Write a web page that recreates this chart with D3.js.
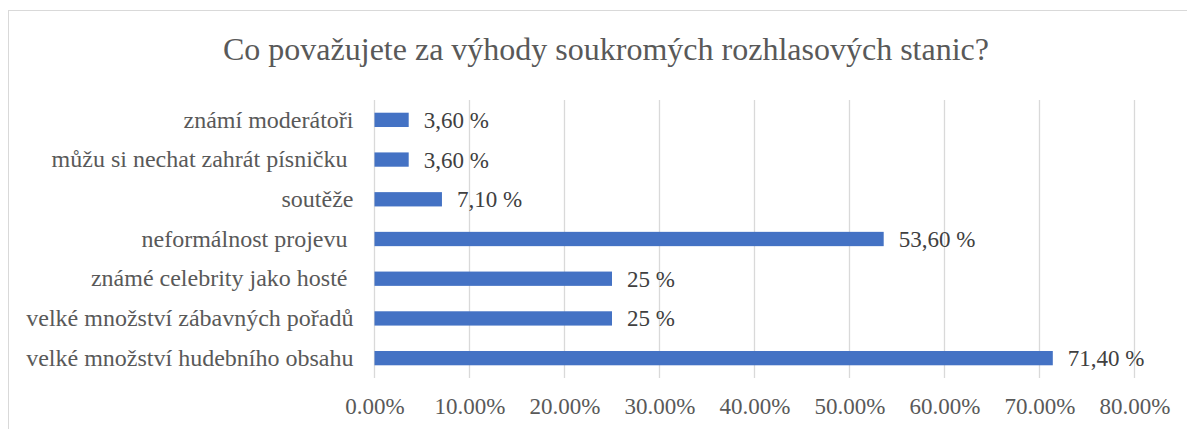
<!DOCTYPE html>
<html><head><meta charset="utf-8">
<script src="https://cdn.jsdelivr.net/npm/d3@7/dist/d3.min.js"></script>
<style>body{margin:0;background:#fff}svg{display:block}text{white-space:pre}</style>
</head><body>
<script>
const title = "Co považujete za výhody soukromých rozhlasových stanic?";
const categories = ["známí moderátoři","můžu si nechat zahrát písničku ","soutěže","neformálnost projevu ","známé celebrity jako hosté ","velké množství zábavných pořadů","velké množství hudebního obsahu"];
const values = [3.6, 3.6, 7.1, 53.6, 25, 25, 71.4];
const valueLabels = ["3,60 %","3,60 %","7,10 %","53,60 %","25 %","25 %","71,40 %"];
const ticks = [0,10,20,30,40,50,60,70,80];

const W=1187,H=429;
const svg=d3.select("body").append("svg").attr("width",W).attr("height",H);
const font="'Liberation Serif'";
svg.append("rect").attr("x",8.5).attr("y",10.5).attr("width",W).attr("height",H).attr("fill","#fff").attr("stroke","#d9d9d9");

const x=d3.scaleLinear().domain([0,80]).range([374.5,1134.5]);
const y=d3.scaleBand().domain(categories).range([100,378]).paddingInner(0.64).paddingOuter(0.32);

svg.append("text").attr("x",606).attr("y",60).attr("text-anchor","middle").style("font-family",font).attr("font-size",32).attr("fill","#595959").text(title);

const g=svg.append("g");
g.selectAll("line.grid").data(ticks).join("line").attr("class","grid")
 .attr("x1",d=>x(d)).attr("x2",d=>x(d)).attr("y1",100).attr("y2",378).attr("stroke","#d9d9d9").attr("stroke-width",1.3);

const ax=d3.axisBottom(x).tickValues(ticks).tickFormat(d=>d.toFixed(2)+"%").tickSize(0).tickPadding(0);
const axg=svg.append("g").attr("transform","translate(0,398)").call(ax);
axg.select(".domain").remove();
axg.attr("font-family",null).attr("font-size",null);
axg.selectAll("text").style("font-family",font).attr("font-size",23).attr("fill","#595959").attr("dy","0.71em");

const ay=d3.axisLeft(y).tickSize(0).tickPadding(21);
const ayg=svg.append("g").attr("transform",`translate(${x(0)},0)`).call(ay);
ayg.select(".domain").remove();
ayg.attr("font-family",null).attr("font-size",null);
ayg.selectAll("text").style("font-family",font).attr("font-size",24).attr("fill","#595959");

g.selectAll("rect.bar").data(values).join("rect").attr("class","bar")
 .attr("x",x(0)).attr("y",(d,i)=>y(categories[i])).attr("width",d=>x(d)-x(0)).attr("height",y.bandwidth())
 .attr("fill","#4472c4");

g.selectAll("text.lbl").data(values).join("text").attr("class","lbl")
 .attr("x",d=>x(d)+15).attr("y",(d,i)=>y(categories[i])+y.bandwidth()/2).attr("dy","0.35em")
 .style("font-family",font).attr("font-size",23).attr("fill","#404040")
 .text((d,i)=>valueLabels[i]);
</script>
</body></html>
